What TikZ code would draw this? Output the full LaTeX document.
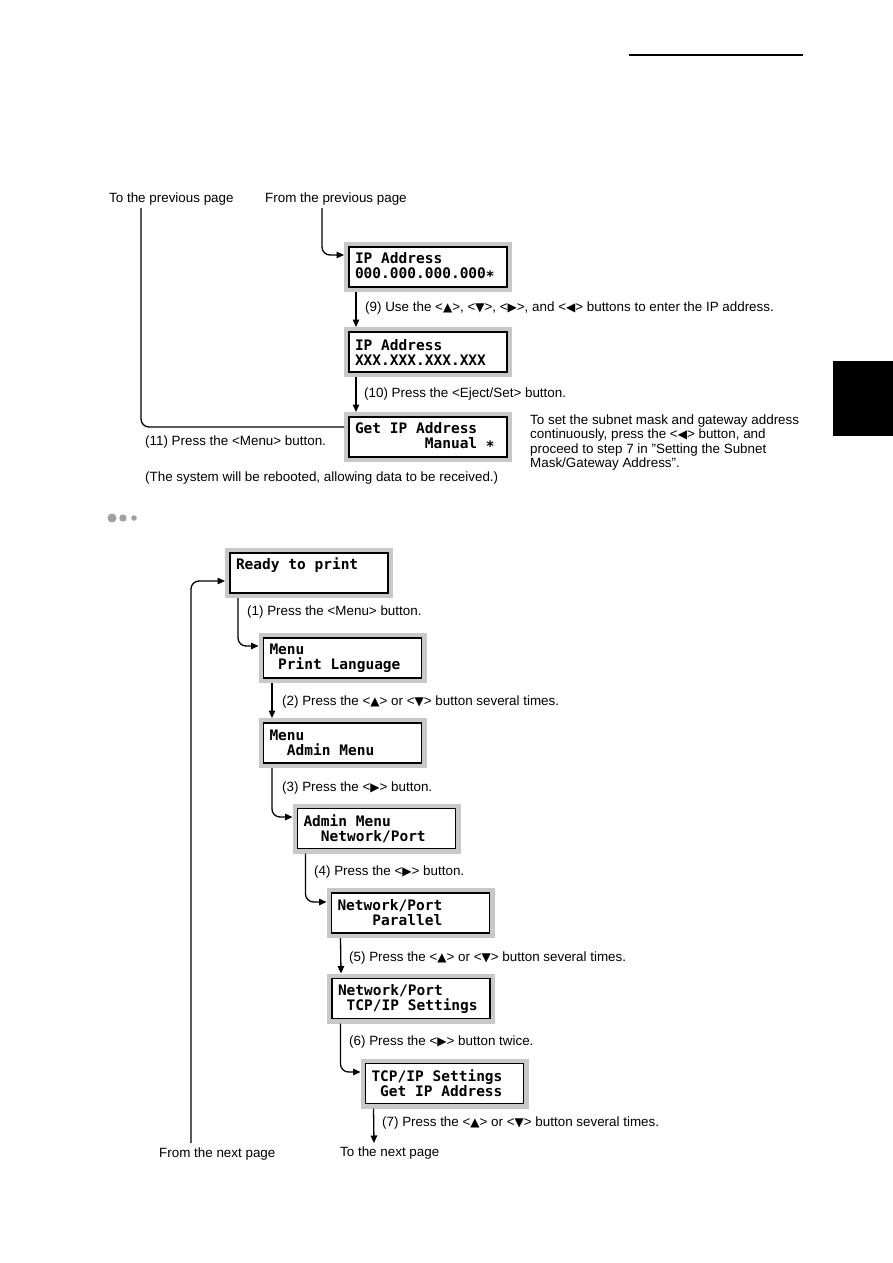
\documentclass[tikz,border=0pt]{standalone}
\usepackage{fontspec}
\setmainfont{Liberation Sans}
\newfontfamily\lcdf{DejaVu Sans Mono}
\newfontfamily\symf{DejaVu Sans}
\usetikzlibrary{arrows.meta}
\definecolor{lcdgray}{HTML}{C8C8C8}
\definecolor{bulletgray}{HTML}{A0A0A0}
\newcommand\tU{{\symf\fontsize{12}{10}\selectfont ▲}}
\newcommand\tD{{\symf\fontsize{12}{10}\selectfont ▼}}
\newcommand\tR{{\symf\fontsize{12}{10}\selectfont ▶}}
\newcommand\tL{{\symf\fontsize{12}{10}\selectfont ◀}}
\newcommand\ls{\phantom{0}}
\newcommand\lcdstar{\raisebox{-2.5pt}{*}}
\begin{document}
\begin{tikzpicture}[x=1pt,y=-1pt,
  lcd/.style={draw=black, line width=1.8pt, fill=white,
    minimum width=158pt, minimum height=40pt, inner xsep=6pt, inner ysep=0pt,
    align=left, text width=146pt,
    font=\lcdf\bfseries\fontsize{14.5}{15}\selectfont,
    outer sep=5pt, preaction={draw=lcdgray, line width=10pt}},
  lbl/.style={anchor=base west, inner sep=0pt, font=\fontsize{13.4}{14.5}\selectfont},
  arr/.style={-{Triangle[length=7.5pt,width=6.5pt]}, line width=1.3pt, rounded corners=8pt},
  conn/.style={line width=1.3pt, rounded corners=8pt}]
\useasboundingbox (0,0) rectangle (893,1263);
\fill[white] (0,0) rectangle (893,1263);

% page decorations
\draw[line width=1.5pt] (629,55) -- (803,55);
\fill[black] (833,361) rectangle (893,436);
\fill[bulletgray] (112,518) circle (4.5);
\fill[bulletgray] (123,518) circle (3.7);
\fill[bulletgray] (134,518) circle (2.8);

% ---------- upper part ----------
\node[lbl] (tprev) at (109,202) {To the previous page};
\node[lbl] (fprev) at (265,202) {From the previous page};
\coordinate (fprevEnd) at (322,208);
\coordinate (tprevEnd) at (141,208);

\node[lcd] (A) at (428,267) {IP\ls Address\\000.000.000.000\lcdstar};
\node[lcd] (B) at (428,352) {IP\ls Address\\XXX.XXX.XXX.XXX};
\node[lcd] (C) at (428,437) {Get\ls IP\ls Address\\\ls\ls\ls\ls\ls\ls\ls\ls Manual\ls\lcdstar};

\draw[arr] (fprevEnd) |- ([yshift=12pt]A.west);
\draw[arr] ([xshift=12pt]A.south west) -- ([xshift=12pt]B.north west);
\draw[arr] ([xshift=12pt]B.south west) -- ([xshift=12pt]C.north west);
\draw[conn] ([yshift=10pt]C.west) -| (tprevEnd);

\node[lbl] (l9) at (365,311) {(9) Use the <\tU>, <\tD>, <\tR>, and <\tL> buttons to enter the IP address.};
\node[lbl] (l10) at (364,397) {(10) Press the <Eject/Set> button.};
\node[lbl] (l11) at (145,445) {(11) Press the <Menu> button.};
\node[lbl] (lreb) at (145,481) {(The system will be rebooted, allowing data to be received.)};
\node[lbl] (n1) at (530,424) {To set the subnet mask and gateway address};
\node[lbl] (n2) at (530,438.5) {continuously, press the <\tL> button, and};
\node[lbl] (n3) at (530,453) {proceed to step 7 in "Setting the Subnet};
\node[lbl] (n4) at (530,467.5) {Mask/Gateway Address".};

% ---------- lower part ----------
\node[lcd] (R)  at (309,573)   {Ready\ls to\ls print\\\strut};
\node[lcd] (M1) at (342.5,658) {Menu\\\ls Print\ls Language};
\node[lcd] (M2) at (342.5,743) {Menu\\\ls\ls Admin\ls Menu};
\node[lcd] (N1) at (376.5,828.5) {Admin\ls Menu\\\ls\ls Network/Port};
\node[lcd] (N2) at (410.5,913) {Network/Port\\\ls\ls\ls\ls Parallel};
\node[lcd] (N3) at (411,998.5) {Network/Port\\\ls TCP/IP\ls Settings};
\node[lcd] (T)  at (444.5,1083.5) {TCP/IP\ls Settings\\\ls Get\ls IP\ls Address};

\coordinate (fnextEnd) at (191,1143);
\coordinate (tnextEnd) at (374,1143);
\node[lbl] (fnext) at (159,1157) {From the next page};
\node[lbl] (tnext) at (340,1156.5) {To the next page};

\draw[arr] (fnextEnd) |- ([yshift=-8pt]R.west);
\draw[arr] ([xshift=13pt]R.south west) |- ([yshift=12pt]M1.west);
\draw[arr] ([xshift=13.5pt]M1.south west) -- ([xshift=13.5pt]M2.north west);
\draw[arr] ([xshift=13.5pt]M2.south west) |- ([yshift=11.5pt]N1.west);
\draw[arr] ([xshift=13pt]N1.south west) |- ([yshift=11pt]N2.west);
\draw[arr] ([xshift=14pt]N2.south west) -- ([xshift=14pt]N3.north west);
\draw[arr] ([xshift=13.5pt]N3.south west) |- ([yshift=11.5pt]T.west);
\draw[arr] ([xshift=13pt]T.south west) -- (tnextEnd);

\node[lbl] (s1) at (247,615) {(1) Press the <Menu> button.};
\node[lbl] (s2) at (282,705) {(2) Press the <\tU> or <\tD> button several times.};
\node[lbl] (s3) at (282,791) {(3) Press the <\tR> button.};
\node[lbl] (s4) at (314,875) {(4) Press the <\tR> button.};
\node[lbl] (s5) at (349,961) {(5) Press the <\tU> or <\tD> button several times.};
\node[lbl] (s6) at (349,1045.5) {(6) Press the <\tR> button twice.};
\node[lbl] (s7) at (382,1126.5) {(7) Press the <\tU> or <\tD> button several times.};
\end{tikzpicture}
\end{document}
